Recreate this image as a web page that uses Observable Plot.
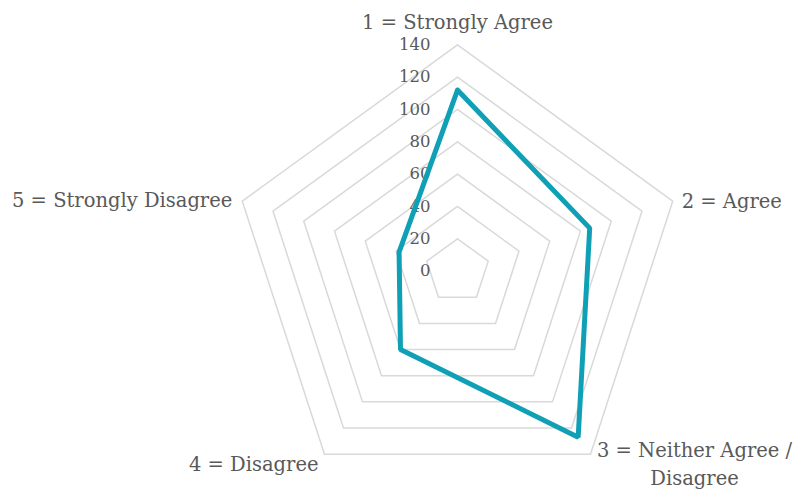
<!DOCTYPE html>
<html><head><meta charset="utf-8">
<script src="https://cdn.jsdelivr.net/npm/d3@7"></script>
<script src="https://cdn.jsdelivr.net/npm/@observablehq/plot@0.6"></script>
<style>body{margin:0;background:#fff}</style>
</head><body><div id="chart"></div>
<script>
const categories = ["1 = Strongly Agree", "2 = Agree", "3 = Neither Agree /\nDisagree", "4 = Disagree", "5 = Strongly Disagree"];
const values = [112, 86, 127, 60, 38];
const ticks = [0, 20, 40, 60, 80, 100, 120, 140];

const W = 795, H = 493, cx = 457, cy = 270.6, R = 226.3, vmax = 140;
const k = R / vmax;
const n = categories.length;
const ang = i => Math.PI / 2 - i * 2 * Math.PI / n;
const pt = (i, v) => [v * Math.cos(ang(i)), v * Math.sin(ang(i))];

const rings = [];
ticks.filter(t => t > 0).forEach(t => { for (let i = 0; i <= n; i++) { const [x, y] = pt(i % n, t); rings.push({t, x, y}); } });
const series = [];
for (let i = 0; i <= n; i++) { const [x, y] = pt(i % n, values[i % n]); series.push({x, y}); }
const labels = categories.map((c, i) => { const [x, y] = pt(i, vmax); return {c, i, x, y}; });

const font = "'DejaVu Serif', 'Liberation Serif', serif";
const lab = (i, opts) => Plot.text(labels.filter(d => d.i === i), {x: "x", y: "y", text: "c", fontSize: 19.5, fill: "#595959", fontFamily: font, lineHeight: 1.45, ...opts});

const chart = Plot.plot({
  width: W, height: H, margin: 0,
  x: {domain: [-cx / k, (W - cx) / k], range: [0, W], axis: null},
  y: {domain: [-(H - cy) / k, cy / k], range: [H, 0], axis: null},
  style: {background: "#fff"},
  marks: [
    Plot.line(rings, {x: "x", y: "y", z: "t", stroke: "#d9d9d9", strokeWidth: 1.5}),
    Plot.text(ticks, {x: 0, y: d => d, text: d => String(d), textAnchor: "end", dx: -27, fontSize: 16.5, fill: "#595959", fontFamily: font}),
    Plot.line(series, {x: "x", y: "y", stroke: "#0fa0b6", strokeWidth: 5, strokeLinejoin: "miter"}),
    lab(0, {dy: -25}),
    lab(1, {textAnchor: "start", dx: 9, dy: -2}),
    lab(2, {textAnchor: "middle", dx: 104, dy: 8}),
    lab(3, {textAnchor: "end", dx: -6, dy: 8}),
    lab(4, {textAnchor: "end", dx: -10, dy: -3})
  ]
});
document.getElementById("chart").append(chart);
</script>
</body></html>
